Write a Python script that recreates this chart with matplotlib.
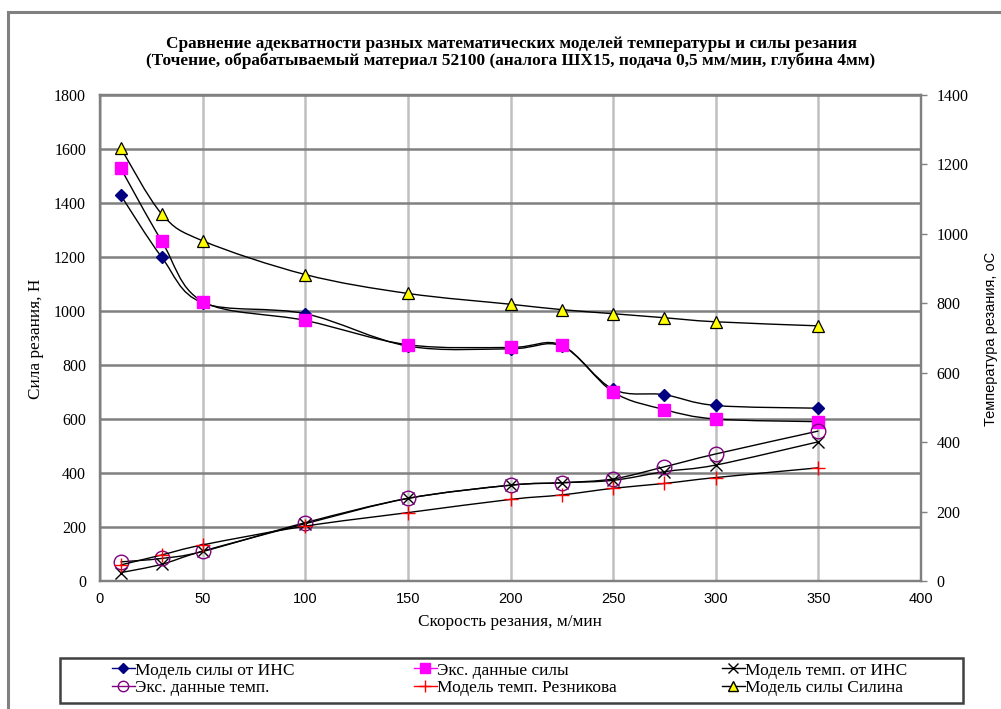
import numpy as np
import matplotlib.pyplot as plt
from matplotlib.path import Path
from matplotlib.patches import PathPatch, Rectangle
from matplotlib.lines import Line2D

# скорость резания, м/мин
speed = [10, 30, 50, 100, 150, 200, 225, 250, 275, 300, 350]

# сила резания, Н (левая ось)
force_ann = [1430, 1200, 1030, 990, 870, 860, 870, 710, 690, 650, 640]
force_exp = [1530, 1260, 1035, 965, 875, 865, 873, 700, 635, 600, 590]
force_silin = [1605, 1360, 1260, 1135, 1065, 1025, 1005, 990, 975, 960, 945]

# температура резания, oC (правая ось)
temp_ann = [24, 48, 86, 165, 238, 276, 283, 290, 315, 334, 401]
temp_exp = [55, 65, 85, 168, 238, 276, 283, 294, 329, 366, 432]
temp_reznikov = [46, 75, 104, 158, 197, 235, 248, 267, 281, 298, 326]

SERIF = 'Liberation Serif'
SANS = 'Liberation Sans'


def smooth_path(x, y):
    """Сглаженная линия как в Excel: кривые Безье через все точки."""
    p = np.column_stack([x, y]).astype(float)
    verts = [p[0]]
    codes = [Path.MOVETO]
    n = len(p)
    for i in range(n - 1):
        p0 = p[i - 1] if i > 0 else p[i]
        p1 = p[i]
        p2 = p[i + 1]
        p3 = p[i + 2] if i + 2 < n else p[i + 1]
        c1 = p1 + (p2 - p0) / 6.0
        c2 = p2 - (p3 - p1) / 6.0
        verts += [c1, c2, p2]
        codes += [Path.CURVE4] * 3
    return Path(verts, codes)


def draw_series(ax, x, y, z, **mk):
    patch = PathPatch(smooth_path(x, y), facecolor='none', edgecolor='black',
                      lw=1.0, zorder=z)
    ax.add_patch(patch)
    ax.plot(x, y, linestyle='none', zorder=z + 0.5, **mk)


fig = plt.figure(figsize=(10.01, 7.09), dpi=100)
W, H = 1001, 709

# рамка области диаграммы
fig.patches.append(Rectangle((8 / W, -0.1), 1.2, 1.1 - 12 / H,
                             transform=fig.transFigure, fill=False,
                             edgecolor='#808080', lw=2.2))

ax = fig.add_axes([100 / W, 1 - 581 / H, 821 / W, 486 / H])
ax2 = ax.twinx()

ax.set_xlim(0, 400)
ax.set_ylim(0, 1800)
ax2.set_ylim(0, 1400)

ax.set_xticks(np.arange(0, 401, 50))
ax.set_yticks(np.arange(0, 1801, 200))
ax2.set_yticks(np.arange(0, 1401, 200))

ax.grid(axis='x', color='#c0c0c0', lw=1.8)
ax.grid(axis='y', color='#808080', lw=1.8)
ax.set_axisbelow(True)

for a in (ax, ax2):
    for s in a.spines.values():
        s.set_color('#808080')
        s.set_linewidth(1.6)

ax.tick_params(axis='x', length=0, pad=8, labelsize=10.5)
ax.tick_params(axis='y', length=0, pad=10, labelsize=11.5)
ax2.tick_params(axis='y', length=4, width=1, color='#808080', pad=7,
                labelsize=11.5)
for t in ax.get_xticklabels():
    t.set_fontfamily(SANS)
for t in ax.get_yticklabels() + ax2.get_yticklabels():
    t.set_fontfamily(SERIF)

ax.patch.set_visible(False)
ax2.set_zorder(ax.zorder + 1)
ax2.patch.set_visible(False)

# силовые кривые
draw_series(ax, speed, force_ann, 3, marker='D', ms=6.5, mfc='#000080',
            mec='#000080')
draw_series(ax, speed, force_exp, 4, marker='s', ms=8.5, mfc='#ff00ff',
            mec='#ff00ff')
draw_series(ax, speed, force_silin, 5, marker='^', ms=9, mfc='#ffff00',
            mec='black', mew=0.9)

# температурные кривые
draw_series(ax2, speed, temp_ann, 3, marker='x', ms=8, mec='black', mew=1.0)
draw_series(ax2, speed, temp_exp, 4, marker='o', ms=10.5, mfc='none',
            mec='#800080', mew=1.0)
draw_series(ax2, speed, temp_reznikov, 5, marker='+', ms=10, mec='#ff0000',
            mew=1.0)

fig.text(511 / W, 1 - 44 / H,
         'Сравнение адекватности разных математических моделей температуры и силы резания',
         ha='center', va='center', fontsize=12.4, fontweight='bold', family=SERIF)
fig.text(511 / W, 1 - 61 / H,
         '(Точение, обрабатываемый материал 52100 (аналога ШХ15, подача 0,5 мм/мин, глубина 4мм)',
         ha='center', va='center', fontsize=12.4, fontweight='bold', family=SERIF)

fig.text(510 / W, 1 - 622 / H, 'Скорость резания, м/мин', ha='center',
         va='center', fontsize=12.4, family=SERIF)
fig.text(36 / W, 1 - 339 / H, 'Сила резания, Н', ha='center', va='center',
         rotation=90, fontsize=12.4, family=SERIF)
fig.text(991 / W, 1 - 339 / H, 'Температура резания, оС', ha='center',
         va='center', rotation=90, fontsize=10.5, family=SANS)


# легенда: рамка и три колонки
def leg(color='black', **kw):
    return Line2D([], [], color=color, lw=1.0, **kw)


h_ann = leg(color='#000080', marker='D', ms=5.5, mfc='#000080', mec='#000080')
h_exp = leg(color='#ff00ff', marker='s', ms=7, mfc='#ff00ff', mec='#ff00ff')
h_tann = leg(marker='x', ms=7, mec='black')
h_texp = leg(color='#800080', marker='o', ms=7.5, mfc='none', mec='#800080')
h_rez = leg(color='#ff0000', marker='+', ms=9, mec='#ff0000')
h_sil = leg(marker='^', ms=7, mfc='#ffff00', mec='black')

columns = [
    ([h_ann, h_texp], ['Модель силы от ИНС', 'Экс. данные темп.'], 112),
    ([h_exp, h_rez], ['Экс. данные силы', 'Модель темп. Резникова'], 414),
    ([h_tann, h_sil], ['Модель темп. от ИНС', 'Модель силы Силина'], 722),
]
for hs, ls, x0 in columns:
    fig.legend(hs, ls, loc='center left', bbox_to_anchor=(x0 / W, 1 - 679 / H),
               prop={'family': SERIF, 'size': 12.5}, frameon=False,
               handlelength=1.3, handletextpad=0.05, labelspacing=0.05,
               borderpad=0, borderaxespad=0)

fig.patches.append(Rectangle((60 / W, 1 - 703 / H), 903 / W, 45 / H,
                             transform=fig.transFigure, fill=False,
                             edgecolor='#404040', lw=1.8))

fig.savefig('out.png', dpi=100)
